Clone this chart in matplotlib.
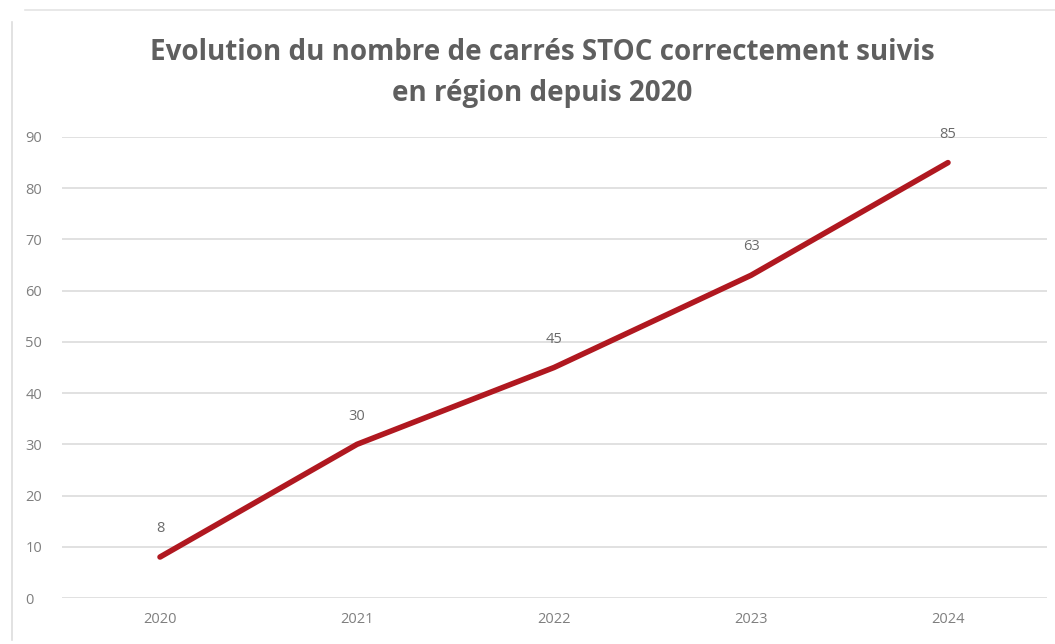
import matplotlib
matplotlib.use("Agg")
import matplotlib.pyplot as plt
from matplotlib.lines import Line2D

years = ["2020", "2021", "2022", "2023", "2024"]
values = [8, 30, 45, 63, 85]
yticks = [0, 10, 20, 30, 40, 50, 60, 70, 80, 90]
title = "Evolution du nombre de carrés STOC correctement suivis\nen région depuis 2020"

plt.rcParams['font.family'] = ['Open Sans', 'DejaVu Sans']

fig = plt.figure(figsize=(10.55, 6.44), dpi=100)
ax = fig.add_axes([61.5/1055, 1 - 598/644, (1046.5-61.5)/1055, (598-137)/644])

x = list(range(len(years)))
ax.plot(x, values, color="#b01820", linewidth=4.0, solid_capstyle="round", zorder=3)
for xi, v in zip(x, values):
    ax.annotate(str(v), (xi, v), xytext=(0, 15), textcoords="offset points",
                ha="center", va="bottom", fontsize=10.5, color="#6b6b6b")

ax.set_xlim(-0.5, len(years) - 0.5)
ax.set_ylim(0, 90)
ax.set_yticks(yticks)
ax.set_xticks(x)
ax.set_xticklabels(years)
ax.grid(axis="y", color="#dcdcdc", linewidth=1.2)
ax.set_axisbelow(True)
for s in ax.spines.values():
    s.set_visible(False)
ax.tick_params(length=0, labelsize=10.5, labelcolor="#7f7f7f")
ax.tick_params(axis="y", pad=26)
ax.tick_params(axis="x", pad=10)
for lbl in ax.get_yticklabels():
    lbl.set_ha("left")

fig.text(542/1055, 1 - 73/644, title, ha="center", va="center", fontsize=20,
         fontweight="bold", color="#5f5f5f", linespacing=1.55)

fig.add_artist(Line2D([12/1055, 12/1055], [1 - 22/644, 1 - 640/644], color="#dddddd", lw=1.2))
fig.add_artist(Line2D([25/1055, 1.0], [1 - 10/644, 1 - 10/644], color="#e4e4e4", lw=1.2))

fig.savefig("out.png", dpi=100)
